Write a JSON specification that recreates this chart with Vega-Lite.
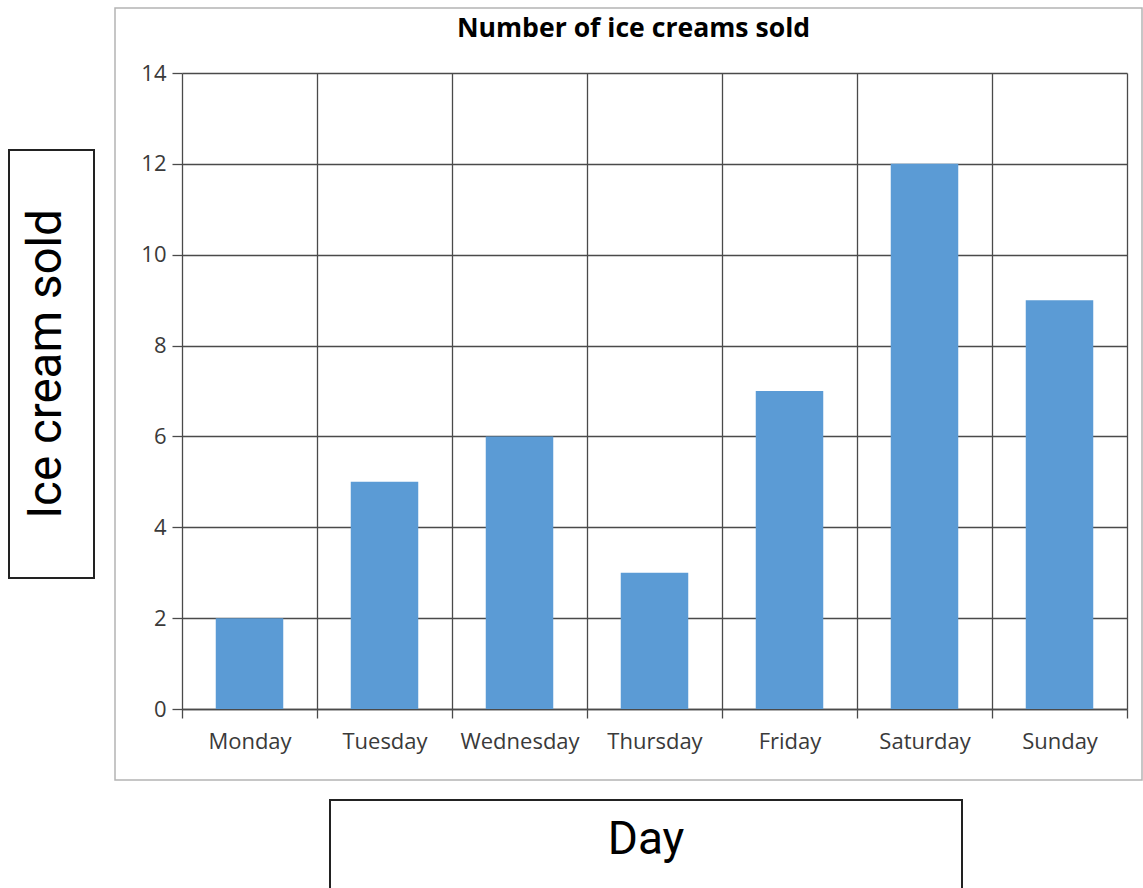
{
  "$schema": "https://vega.github.io/schema/vega-lite/v6.json",
  "background": "white",
  "padding": {"left": 8, "top": 7, "right": 0, "bottom": 0},
  "config": {
    "font": "Open Sans"
  },
  "spacing": 19,
  "hconcat": [
    {
      "spacing": 0,
      "vconcat": [
        {
          "width": 85,
          "height": 141,
          "view": {"stroke": null},
          "data": {"values": []},
          "mark": {"type": "text"},
          "encoding": {}
        },
        {
          "width": 85,
          "height": 428,
          "view": {"stroke": "#222222", "strokeWidth": 2},
          "data": {"values": [{"label": "Ice cream sold"}]},
          "mark": {"type": "text", "font": "Roboto", "fontSize": 47.5, "angle": 270, "color": "black", "baseline": "middle", "align": "center", "dy": -5},
          "encoding": {"text": {"field": "label", "type": "nominal"}}
        }
      ]
    },
    {
      "spacing": 18,
      "vconcat": [
        {
          "width": 1027,
          "height": 772,
          "view": {"stroke": "#b4b4b4", "strokeWidth": 1.5},
          "title": {"text": "Number of ice creams sold", "font": "Open Sans", "fontSize": 26.6, "fontWeight": "bold", "color": "black", "anchor": "middle", "frame": "group", "offset": -35, "dx": 5},
          "data": {"values": [
            {"day": "Monday", "sold": 2},
            {"day": "Tuesday", "sold": 5},
            {"day": "Wednesday", "sold": 6},
            {"day": "Thursday", "sold": 3},
            {"day": "Friday", "sold": 7},
            {"day": "Saturday", "sold": 12},
            {"day": "Sunday", "sold": 9}
          ]},
          "resolve": {"axis": {"x": "independent"}},
          "layer": [
            {
              "mark": {"type": "bar", "color": "#5b9bd5", "width": {"band": 0.5}},
              "encoding": {
                "x": {
                  "field": "day", "type": "nominal", "sort": null,
                  "scale": {"paddingInner": 0, "paddingOuter": 0, "range": [67, 1012]},
                  "axis": {"orient": "top", "title": null, "tickBand": "extent", "labels": false, "ticks": false, "domain": false, "grid": true, "gridColor": "#4a4a4a", "gridWidth": 1.3, "gridOpacity": 1}
                },
                "y": {
                  "field": "sold", "type": "quantitative",
                  "scale": {"domain": [0, 14], "nice": false, "range": [701, 65]},
                  "axis": {"title": null, "format": "d", "offset": -67, "values": [0, 2, 4, 6, 8, 10, 12, 14], "tickSize": 10, "tickColor": "#4a4a4a", "tickWidth": 1.3, "labelPadding": 6, "labelFontSize": 22, "labelColor": "#3a3a3a", "labelFont": "Open Sans", "domain": false, "grid": true, "gridColor": "#4a4a4a", "gridWidth": 1.3, "gridOpacity": 1}
                }
              }
            },
            {
              "mark": {"type": "bar", "color": "#5b9bd5", "opacity": 0, "width": {"band": 0.5}},
              "encoding": {
                "x": {
                  "field": "day", "type": "nominal", "sort": null,
                  "axis": {"orient": "bottom", "title": null, "offset": -71, "labelAngle": 0, "tickBand": "extent", "tickSize": 9, "tickColor": "#4a4a4a", "tickWidth": 1.3, "labelPadding": 13, "labelFontSize": 22, "labelColor": "#3a3a3a", "labelFont": "Open Sans", "domain": true, "domainColor": "#4a4a4a", "domainWidth": 1.6, "grid": false}
                },
                "y": {
                  "field": "sold", "type": "quantitative",
                  "axis": {"title": null, "format": "d", "offset": -67, "values": [0, 2, 4, 6, 8, 10, 12, 14], "tickSize": 10, "tickColor": "#4a4a4a", "tickWidth": 1.3, "labelPadding": 6, "labelFontSize": 22, "labelColor": "#3a3a3a", "labelFont": "Open Sans", "domain": false, "grid": true, "gridColor": "#4a4a4a", "gridWidth": 1.3, "gridOpacity": 1}
                }
              }
            }
          ]
        },
        {
          "spacing": 0,
          "hconcat": [
            {
              "width": 214,
              "height": 93,
              "view": {"stroke": null},
              "data": {"values": []},
              "mark": {"type": "text"},
              "encoding": {}
            },
            {
              "width": 632,
              "height": 93,
              "view": {"stroke": "#222222", "strokeWidth": 2},
              "data": {"values": [{"label": "Day"}]},
              "mark": {"type": "text", "font": "Roboto", "fontSize": 46, "color": "black", "baseline": "middle", "align": "center", "dy": -7},
              "encoding": {"text": {"field": "label", "type": "nominal"}}
            }
          ]
        }
      ]
    }
  ]
}
